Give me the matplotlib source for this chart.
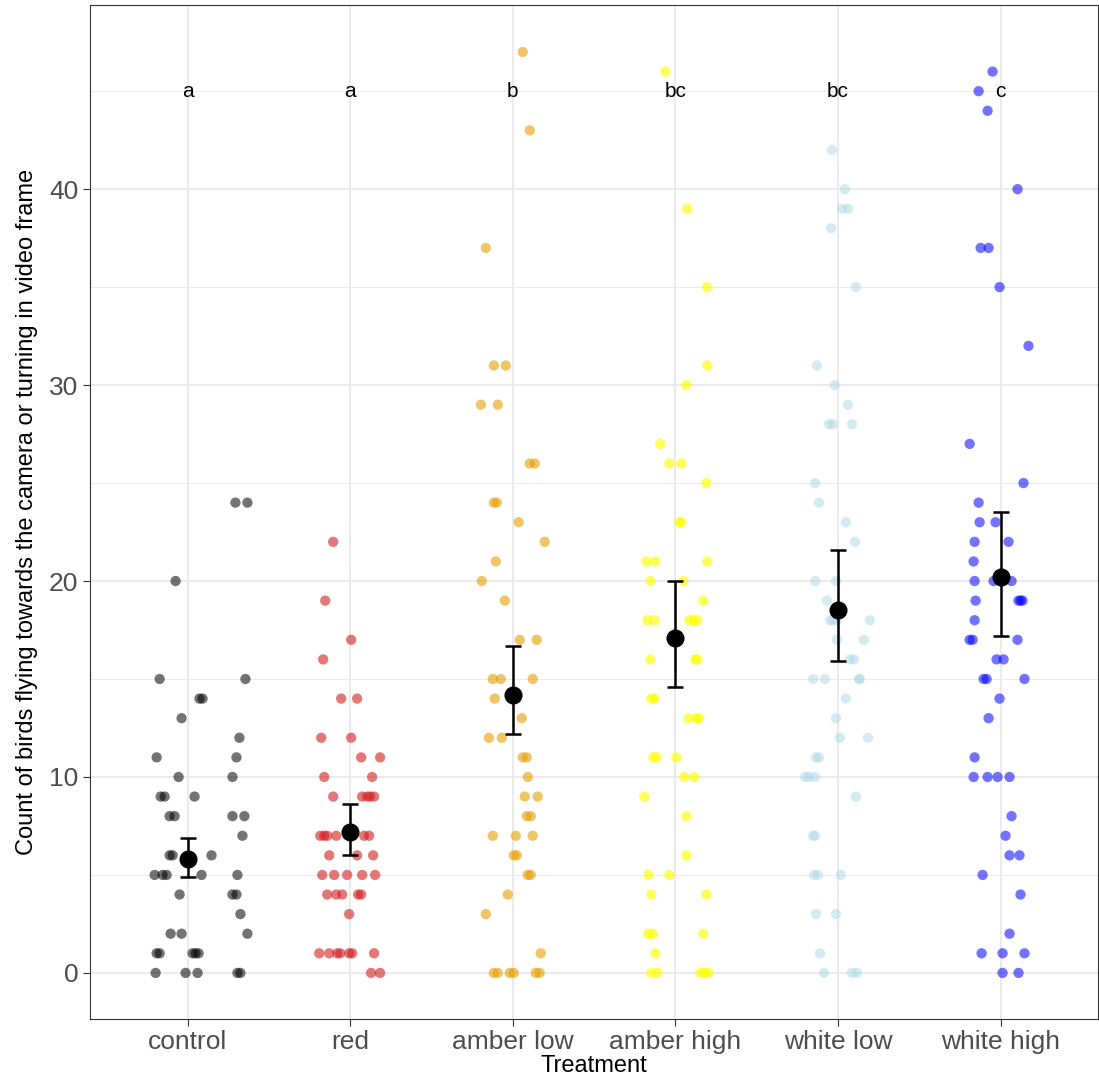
import matplotlib
matplotlib.use("Agg")
import matplotlib.pyplot as plt
import numpy as np
plt.rcParams['font.family'] = ['Liberation Sans', 'DejaVu Sans']

categories = ["control", "red", "amber low", "amber high", "white low", "white high"]
colors = ["#000000", "#D21F1F", "#E69F00", "#FFFF00", "#ADD8E6", "#0000FF"]
alphas = [0.55, 0.6, 0.6, 0.65, 0.5, 0.55]
letters = ["a", "a", "b", "bc", "bc", "c"]
means = [5.8, 7.2, 14.2, 17.1, 18.5, 20.2]
lower = [4.9, 6.0, 12.2, 14.6, 15.9, 17.2]
upper = [6.9, 8.6, 16.7, 20.0, 21.6, 23.5]

PX_CENTER = [188, 351, 513, 676, 839, 1001]
PX_PER_CAT = 163.0
obs = [
 [(176,20),(236,24),(248,24),(160,15),(246,15),(203,14),(200,14),(182,13),(240,12),(157,11),(237,11),(179,10),(233,10),(161,9),(165,9),(195,9),(175,8),(170,8),(233,8),(245,8),(243,7),(170,6),(173,6),(212,6),(238,5),(155,5),(163,5),(167,5),(202,5),(180,4),(233,4),(237,4),(241,3),(171,2),(182,2),(248,2),(157,1),(160,1),(193,1),(196,1),(199,1),(156,0),(186,0),(198,0),(238,0),(241,0)],
 [(334,22),(326,19),(324,16),(352,17),(342,14),(358,14),(322,12),(352,12),(362,11),(381,11),(325,10),(373,10),(334,9),(363,9),(368,9),(371,9),(375,9),(321,7),(325,7),(328,7),(337,7),(365,7),(370,7),(330,6),(358,6),(374,6),(323,5),(335,5),(348,5),(363,5),(376,5),(328,4),(337,4),(343,4),(359,4),(362,4),(350,3),(320,1),(330,1),(338,1),(341,1),(350,1),(353,1),(375,1),(372,0),(381,0)],
 [(523,47),(530,43),(486,37),(494,31),(506,31),(481,29),(498,29),(530,26),(535,26),(494,24),(497,24),(519,23),(545,22),(496,21),(482,20),(505,19),(520,17),(537,17),(493,15),(501,15),(533,15),(495,14),(522,13),(489,12),(502,12),(523,11),(527,11),(528,10),(525,9),(538,9),(527,8),(531,8),(493,7),(516,7),(533,7),(514,6),(517,6),(528,5),(531,5),(508,4),(486,3),(541,1),(494,0),(498,0),(510,0),(514,0),(536,0),(540,0)],
 [(666,46),(688,39),(708,35),(708,31),(687,30),(661,27),(670,26),(682,26),(707,25),(680,23),(682,23),(647,21),(656,21),(708,21),(651,20),(684,20),(648,18),(655,18),(690,18),(694,18),(698,18),(704,19),(651,16),(696,16),(698,16),(652,14),(655,14),(654,11),(657,11),(677,11),(689,13),(697,13),(700,13),(685,10),(695,10),(687,8),(645,9),(687,6),(649,5),(670,5),(652,4),(707,4),(649,2),(653,2),(704,2),(656,1),(652,0),(658,0),(701,0),(705,0),(709,0)],
 [(833,42),(818,31),(832,38),(846,40),(843,39),(849,39),(857,35),(836,30),(830,28),(834,28),(853,28),(849,29),(816,25),(820,24),(847,23),(856,22),(816,20),(837,20),(828,19),(831,18),(834,18),(838,18),(871,18),(855,16),(861,15),(865,17),(860,15),(814,15),(826,15),(838,17),(851,16),(847,14),(837,13),(841,12),(869,12),(817,11),(820,11),(806,10),(810,10),(816,10),(814,7),(816,7),(815,5),(819,5),(842,5),(857,9),(817,3),(837,3),(821,1),(825,0),(853,0),(858,0)],
 [(993,46),(979,45),(988,44),(1018,40),(981,37),(989,37),(1000,35),(1029,32),(970,27),(1024,25),(979,24),(980,23),(996,23),(1009,22),(975,22),(974,21),(975,20),(994,20),(1012,20),(976,19),(1019,19),(1021,19),(1023,19),(975,18),(970,17),(973,17),(1018,17),(997,16),(1004,16),(984,15),(987,15),(1025,15),(1000,14),(989,13),(975,11),(974,10),(988,10),(998,10),(1010,10),(1012,8),(1006,7),(1010,6),(1020,6),(983,5),(1021,4),(1010,2),(982,1),(1003,1),(1025,1),(1003,0),(1019,0)],
]

fig = plt.figure(figsize=(10.99, 10.81), dpi=100)
ax = fig.add_axes([0.0819, 0.0574, 0.9173, 0.938])
for i, grp in enumerate(obs):
    xs = [i + (p - PX_CENTER[i]) / PX_PER_CAT for p, v in grp]
    ys = [v for p, v in grp]
    ax.scatter(xs, ys, s=55, color=colors[i], alpha=alphas[i], edgecolors="none", zorder=3)
x = np.arange(len(categories))
m = np.array(means)
ax.errorbar(x, m, yerr=[m - np.array(lower), np.array(upper) - m], fmt="o", color="black",
            ms=12, capsize=6, elinewidth=1.8, capthick=1.8, zorder=5)
for i, l in enumerate(letters):
    ax.text(i, 45, l, ha="center", va="center", fontsize=15)

ax.set_xlim(-0.6, 5.6)
ax.set_ylim(-2.35, 49.4)
ax.set_xticks(x)
ax.set_xticklabels(categories, fontsize=19, color="#4D4D4D")
ax.set_yticks([0, 10, 20, 30, 40])
ax.set_yticks([5, 15, 25, 35, 45], minor=True)
ax.tick_params(axis="y", labelsize=19, labelcolor="#4D4D4D", which="major", color="#333333", length=5)
ax.tick_params(axis="y", which="minor", length=0)
ax.tick_params(axis="x", color="#333333", length=5, pad=3)
ax.grid(True, which="major", color="#EBEBEB", lw=1.4, zorder=0)
ax.grid(True, which="minor", axis="y", color="#EBEBEB", lw=0.7, zorder=0)
ax.set_axisbelow(True)
for s in ax.spines.values():
    s.set_color("#333333")
ax.set_xlabel("Treatment", fontsize=17, labelpad=1)
ax.set_ylabel("Count of birds flying towards the camera or turning in video frame", fontsize=17, labelpad=8)
fig.savefig("out.png", dpi=100)
